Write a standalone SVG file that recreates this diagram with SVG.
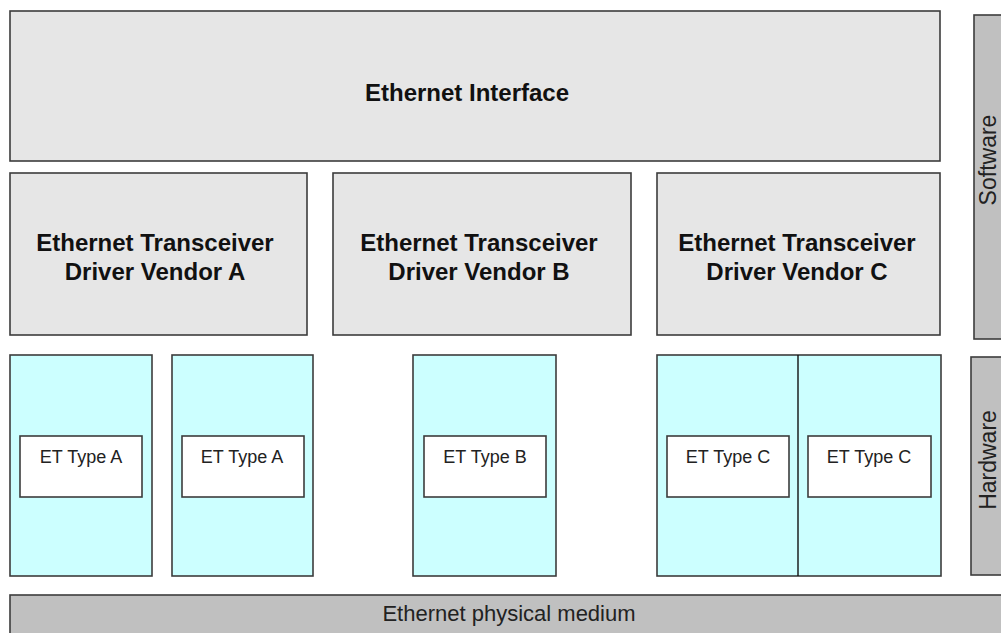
<svg xmlns="http://www.w3.org/2000/svg" width="1001" height="633" viewBox="0 0 1001 633">
<style>
.sw{fill:#e6e6e6;stroke:#3c3c3c;stroke-width:1.6}
.hw{fill:#ccffff;stroke:#3c3c3c;stroke-width:1.6}
.et{fill:#ffffff;stroke:#3c3c3c;stroke-width:1.6}
.bar{fill:#c0c0c0;stroke:#3c3c3c;stroke-width:1.6}
.b{font-family:"Liberation Sans",Arial,sans-serif;font-weight:bold;font-size:24px;fill:#111;text-anchor:middle}
.r{font-family:"Liberation Sans",Arial,sans-serif;font-size:18px;fill:#222;text-anchor:middle}
.m{font-family:"Liberation Sans",Arial,sans-serif;font-size:22px;fill:#222;text-anchor:middle}
.s{font-family:"Liberation Sans",Arial,sans-serif;font-size:23px;fill:#222;text-anchor:middle}
</style>
<rect width="1001" height="633" fill="#fff"/>
<g id="ethernet-interface">
<rect class="sw" x="10" y="11" width="930" height="150"/>
<text class="b" x="467" y="101">Ethernet Interface</text>
</g>
<g id="driver-a">
<rect class="sw" x="10" y="173" width="297" height="162"/>
<text class="b" x="155" y="251">Ethernet Transceiver</text>
<text class="b" x="155" y="280">Driver Vendor A</text>
</g>
<g id="driver-b">
<rect class="sw" x="333" y="173" width="298" height="162"/>
<text class="b" x="479" y="251">Ethernet Transceiver</text>
<text class="b" x="479" y="280">Driver Vendor B</text>
</g>
<g id="driver-c">
<rect class="sw" x="657" y="173" width="283" height="162"/>
<text class="b" x="797" y="251">Ethernet Transceiver</text>
<text class="b" x="797" y="280">Driver Vendor C</text>
</g>
<g id="hw-a1">
<rect class="hw" x="10" y="355" width="142" height="221"/>
<rect class="et" x="20" y="436" width="122" height="61"/>
<text class="r" x="81" y="463">ET Type A</text>
</g>
<g id="hw-a2">
<rect class="hw" x="172" y="355" width="141" height="221"/>
<rect class="et" x="182" y="436" width="122" height="61"/>
<text class="r" x="242" y="463">ET Type A</text>
</g>
<g id="hw-b">
<rect class="hw" x="413" y="355" width="143" height="221"/>
<rect class="et" x="424" y="436" width="122" height="61"/>
<text class="r" x="485" y="463">ET Type B</text>
</g>
<g id="hw-c">
<rect class="hw" x="657" y="355" width="284" height="221"/>
<line x1="798" y1="355" x2="798" y2="576" stroke="#111" stroke-width="1.4"/>
<rect class="et" x="667" y="436" width="122" height="61"/>
<text class="r" x="728" y="463">ET Type C</text>
<rect class="et" x="808" y="436" width="123" height="61"/>
<text class="r" x="869" y="463">ET Type C</text>
</g>
<g id="software">
<rect class="bar" x="974" y="15" width="40" height="324"/>
<text class="s" transform="translate(996,160) rotate(-90)">Software</text>
</g>
<g id="hardware">
<rect class="bar" x="971" y="357" width="40" height="218"/>
<text class="s" transform="translate(996,460) rotate(-90)">Hardware</text>
</g>
<g id="physical-medium">
<rect class="bar" x="10" y="595" width="1010" height="50"/>
<text class="m" x="509" y="621">Ethernet physical medium</text>
</g>
<g id="connectors"/>
</svg>
